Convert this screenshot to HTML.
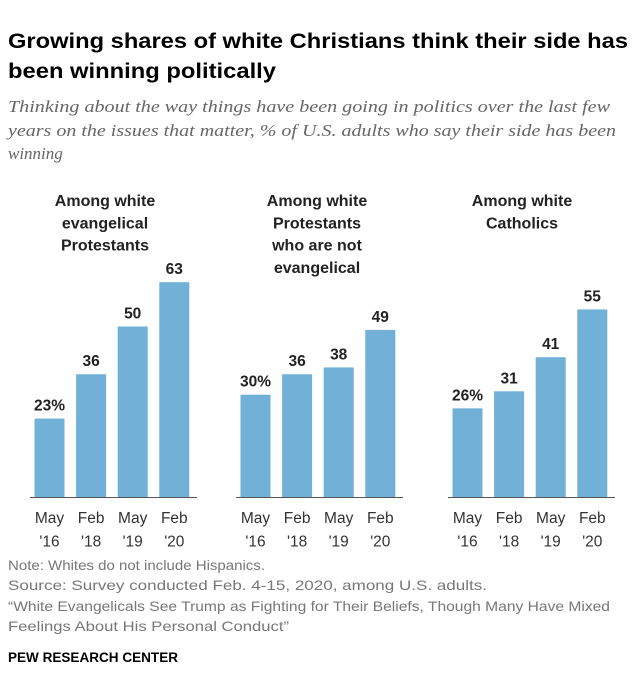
<!DOCTYPE html>
<html><head><meta charset="utf-8"><style>
html,body{margin:0;padding:0;background:#fff}
svg{display:block}
.t{font-family:"Liberation Sans",sans-serif;font-weight:bold;font-size:21px;fill:#000}
.s{font-family:"Liberation Serif",serif;font-style:italic;font-size:17px;fill:#666}
.h{font-family:"Liberation Sans",sans-serif;font-weight:bold;font-size:16px;fill:#222;text-anchor:middle}
.v{font-family:"Liberation Sans",sans-serif;font-weight:bold;font-size:15.5px;fill:#222;text-anchor:middle}
.x{font-family:"Liberation Sans",sans-serif;font-size:15.5px;fill:#333;text-anchor:middle}
.n{font-family:"Liberation Sans",sans-serif;font-size:14px;fill:#777}
.p{font-family:"Liberation Sans",sans-serif;font-weight:bold;font-size:13.5px;fill:#000}
</style></head><body>
<svg id="c" width="640" height="687" viewBox="0 0 640 687">
<text class="t" x="8" y="48" textLength="620" lengthAdjust="spacingAndGlyphs">Growing shares of white Christians think their side has</text>
<text class="t" x="8" y="78" textLength="268" lengthAdjust="spacingAndGlyphs">been winning politically</text>
<text class="s" x="8" y="112" textLength="602" lengthAdjust="spacingAndGlyphs">Thinking about the way things have been going in politics over the last few</text>
<text class="s" x="8" y="136" textLength="608" lengthAdjust="spacingAndGlyphs">years on the issues that matter, % of U.S. adults who say their side has been</text>
<text class="s" x="8" y="159">winning</text>
<g id="plot"></g>
<text class="n" x="8" y="570" textLength="257" lengthAdjust="spacingAndGlyphs">Note: Whites do not include Hispanics.</text>
<text class="n" x="8" y="590" textLength="479" lengthAdjust="spacingAndGlyphs">Source: Survey conducted Feb. 4-15, 2020, among U.S. adults.</text>
<text class="n" x="8" y="611" textLength="602" lengthAdjust="spacingAndGlyphs">“White Evangelicals See Trump as Fighting for Their Beliefs, Though Many Have Mixed</text>
<text class="n" x="8" y="631" textLength="281" lengthAdjust="spacingAndGlyphs">Feelings About His Personal Conduct”</text>
<text class="p" x="8" y="662" textLength="170" lengthAdjust="spacingAndGlyphs">PEW RESEARCH CENTER</text>
</svg>
<script>
const categories = [["May","'16"],["Feb","'18"],["May","'19"],["Feb","'20"]];
const panelTitles = [["Among white","evangelical","Protestants"],["Among white","Protestants","who are not","evangelical"],["Among white","Catholics"]];
const evangelical = [23,36,50,63];
const mainline = [30,36,38,49];
const catholic = [26,31,41,55];
const series = [evangelical, mainline, catholic];
const panelNames = ["evangelical","mainline","catholic"];

const NS="http://www.w3.org/2000/svg";
const g=document.getElementById('plot');
const base=497, pxPerUnit=3.41, barW=30, step=41.6;
const axisLeft=[30,236,448], axisW=167, headCx=[105,317,522];
function y(v){return base-v*pxPerUnit;}
function mk(tag,attrs){const e=document.createElementNS(NS,tag);for(const k in attrs)e.setAttribute(k,attrs[k]);g.appendChild(e);return e;}
series.forEach((vals,p)=>{
  panelTitles[p].forEach((line,i)=>{
    const t=mk('text',{class:'h',x:headCx[p],y:206+i*22.3});
    t.textContent=line;
    
    
  });
  const x0=axisLeft[p]+4.5;
  vals.forEach((v,i)=>{
    const bx=x0+i*step;
    const r=mk('rect',{x:bx,y:y(v),width:barW,height:base-y(v),fill:'#71b1d7'});
    
    
    const lt=mk('text',{class:'v',x:bx+barW/2,y:y(v)-8});
    lt.textContent=v+(i===0?'%':'');
    
    
    categories[i].forEach((c,k)=>{
      const ct=mk('text',{class:'x',x:bx+barW/2,y:523+k*23.5});
      ct.textContent=c;
      
      
    });
  });
  const ax=mk('line',{x1:axisLeft[p],x2:axisLeft[p]+axisW,y1:base+0.5,y2:base+0.5,stroke:'#555','stroke-width':1});
  
  
});
</script>
</body></html>
